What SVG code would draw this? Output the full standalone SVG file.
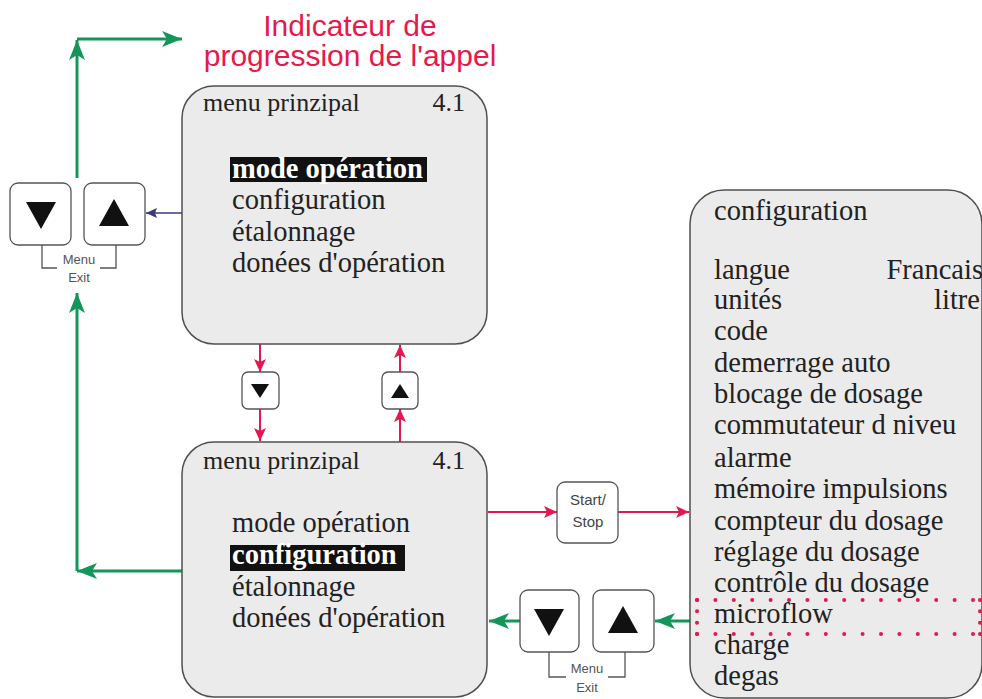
<svg xmlns="http://www.w3.org/2000/svg" width="982" height="699" viewBox="0 0 982 699">
<style>
.box{fill:#ebebeb;stroke:#505050;stroke-width:1.5}
.btn{fill:#ffffff;stroke:#555555;stroke-width:1.3}
.hd{font-family:"Liberation Serif","Times New Roman",serif;font-size:26px;fill:#222}
.it{font-family:"Liberation Serif","Times New Roman",serif;font-size:28.5px;fill:#222}
.sel{font-family:"Liberation Serif","Times New Roman",serif;font-size:28.5px;font-weight:bold;fill:#ffffff}
.lbl{font-family:"Liberation Sans",Arial,sans-serif;font-size:13px;fill:#555;text-anchor:middle}
.ss{font-family:"Liberation Sans",Arial,sans-serif;font-size:15px;fill:#444;text-anchor:middle}
.title{font-family:"Liberation Sans",Arial,sans-serif;font-size:30px;fill:#e8194a;text-anchor:middle}
.g{stroke:#14965a;stroke-width:3;fill:none}
.r{stroke:#e4174f;stroke-width:2;fill:none}
.n{stroke:#3a3a78;stroke-width:1.6;fill:none}
.br{stroke:#555;stroke-width:1.3;fill:none}
.tri{fill:#111}
.dot{stroke:#e4174f;stroke-width:4;stroke-linecap:round;fill:none}
</style>
<defs>
<marker id="ag" markerUnits="userSpaceOnUse" markerWidth="22" markerHeight="16" refX="20" refY="8" orient="auto"><path d="M0,0 L20,8 L0,16 L5,8 Z" fill="#14965a"/></marker>
<marker id="ar" markerUnits="userSpaceOnUse" markerWidth="14" markerHeight="12" refX="13" refY="6" orient="auto"><path d="M0,0 L13,6 L0,12 L3,6 Z" fill="#e4174f"/></marker>
<marker id="an" markerUnits="userSpaceOnUse" markerWidth="12" markerHeight="10" refX="11" refY="5" orient="auto"><path d="M0,0 L11,5 L0,10 L2,5 Z" fill="#3a3a78"/></marker>
</defs>
<rect width="982" height="699" fill="#ffffff"/>

<g id="title">
<text class="title" x="350" y="36">Indicateur de</text>
<text class="title" x="350" y="66">progression de l'appel</text>
</g>

<g id="connectors">
<path class="g" d="M77,178 L77,40" marker-end="url(#ag)"/>
<path class="g" d="M77,39 L182,39" marker-end="url(#ag)"/>
<path class="g" d="M77,571 L77,293" marker-end="url(#ag)"/>
<path class="g" d="M183,571 L77,571" marker-end="url(#ag)"/>
<path class="n" d="M182,213 L146,213" marker-end="url(#an)"/>
<path class="r" d="M260,344 L260,372" marker-end="url(#ar)"/>
<path class="r" d="M260,409 L260,441" marker-end="url(#ar)"/>
<path class="r" d="M400,442 L400,409" marker-end="url(#ar)"/>
<path class="r" d="M400,372 L400,345" marker-end="url(#ar)"/>
<path class="r" d="M488,512 L557,512" marker-end="url(#ar)"/>
<path class="r" d="M618,512 L689,512" marker-end="url(#ar)"/>
<path class="g" d="M690,621 L655,621" marker-end="url(#ag)"/>
<path class="g" d="M520,621 L489,621" marker-end="url(#ag)"/>
<path class="br" d="M42,245 L42,268 L57,268 M100,268 L116,268 L116,245"/>
<path class="br" d="M549,652 L549,677 L566,677 M608,677 L625,677 L625,652"/>
</g>

<g id="menu-top">
<rect class="box" x="182" y="86" width="305" height="258" rx="32"/>
<text class="hd" x="203" y="111">menu prinzipal</text>
<text class="hd" x="465" y="111" text-anchor="end">4.1</text>
<rect x="230" y="157" width="197" height="25" fill="#111"/>
<text class="sel" x="232" y="178">mode opération</text>
<text class="it" x="232" y="209">configuration</text>
<text class="it" x="232" y="241">étalonnage</text>
<text class="it" x="232" y="272">donées d'opération</text>
</g>

<g id="menu-bottom">
<rect class="box" x="182" y="442" width="305" height="255" rx="32"/>
<text class="hd" x="203" y="469">menu prinzipal</text>
<text class="hd" x="465" y="469" text-anchor="end">4.1</text>
<text class="it" x="232" y="532">mode opération</text>
<rect x="230" y="545" width="175" height="26" fill="#111"/>
<text class="sel" x="232" y="564">configuration</text>
<text class="it" x="232" y="596">étalonnage</text>
<text class="it" x="232" y="627">donées d'opération</text>
</g>

<g id="config">
<rect class="box" x="690" y="190" width="292" height="508" rx="34"/>
<text class="it" x="714" y="220">configuration</text>
<text class="it" x="714" y="279">langue</text>
<text class="it" x="983" y="279" text-anchor="end">Francais</text>
<text class="it" x="714" y="309">unités</text>
<text class="it" x="980" y="309" text-anchor="end">litre</text>
<text class="it" x="714" y="340">code</text>
<text class="it" x="714" y="372">demerrage auto</text>
<text class="it" x="714" y="403">blocage de dosage</text>
<text class="it" x="714" y="434">commutateur d niveu</text>
<text class="it" x="714" y="467">alarme</text>
<text class="it" x="714" y="498">mémoire impulsions</text>
<text class="it" x="714" y="530">compteur du dosage</text>
<text class="it" x="714" y="561">réglage du dosage</text>
<text class="it" x="714" y="592">contrôle du dosage</text>
<text class="it" x="714" y="623">microflow</text>
<text class="it" x="714" y="654">charge</text>
<text class="it" x="714" y="685">degas</text>
</g>

<g id="microflow-highlight">
<path class="dot" stroke-dasharray="0 18.4" d="M697,600 L982,600 M697,634 L982,634"/>
<path class="dot" stroke-dasharray="0 11.33" d="M697,600 L697,634 M980,600 L980,634"/>
</g>

<g id="btn-left-down">
<rect class="btn" x="10" y="183" width="61" height="62" rx="8"/>
<path class="tri" d="M26,202 L56,202 L41,229 Z"/>
</g>
<g id="btn-left-up">
<rect class="btn" x="84" y="183" width="61" height="62" rx="8"/>
<path class="tri" d="M99,226 L129,226 L114,199 Z"/>
</g>
<g id="label-left">
<text class="lbl" x="79" y="264">Menu</text>
<text class="lbl" x="79" y="282">Exit</text>
</g>

<g id="btn-mid-down">
<rect class="btn" x="242" y="372" width="37" height="37" rx="6"/>
<path class="tri" d="M251,384 L269,384 L260,398 Z"/>
</g>
<g id="btn-mid-up">
<rect class="btn" x="382" y="372" width="36" height="37" rx="6"/>
<path class="tri" d="M391,398 L409,398 L400,384 Z"/>
</g>

<g id="btn-start-stop">
<rect class="btn" x="557" y="482" width="61" height="61" rx="8"/>
<text class="ss" x="588" y="505">Start/</text>
<text class="ss" x="588" y="527">Stop</text>
</g>

<g id="btn-bottom-down">
<rect class="btn" x="520" y="590" width="59" height="62" rx="8"/>
<path class="tri" d="M534,609 L564,609 L549,636 Z"/>
</g>
<g id="btn-bottom-up">
<rect class="btn" x="593" y="590" width="61" height="62" rx="8"/>
<path class="tri" d="M608,633 L638,633 L623,606 Z"/>
</g>
<g id="label-bottom">
<text class="lbl" x="587" y="673">Menu</text>
<text class="lbl" x="587" y="692">Exit</text>
</g>
</svg>
